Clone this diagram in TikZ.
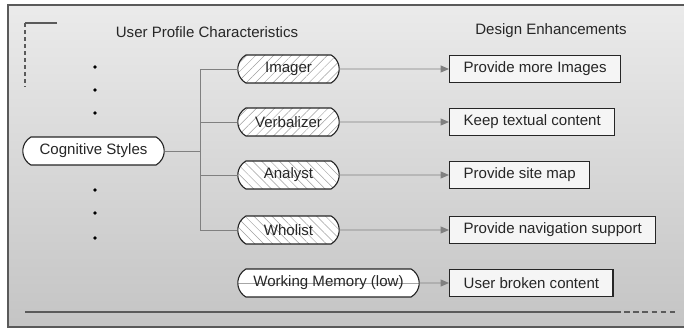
\documentclass[tikz,border=0pt]{standalone}
\usepackage{fontspec}
\setmainfont{Liberation Sans}
\usetikzlibrary{positioning,shapes.misc,patterns.meta,arrows.meta}
\definecolor{framegray}{HTML}{5A5A5A}
\definecolor{linegray}{HTML}{808080}
\definecolor{txtgray}{HTML}{262626}
\tikzset{
  pill/.style={rounded rectangle, rounded rectangle arc length=120, draw=txtgray, line width=0.8pt,
    minimum height=0.7cm, minimum width=2.675cm, inner xsep=2pt, text=txtgray},
  hatchne/.style={pill, preaction={fill=white}, pattern color=gray!75,
    pattern={Lines[angle=45,distance=4.5pt,line width=0.35pt]}},
  hatchnw/.style={pill, preaction={fill=white}, pattern color=gray!75,
    pattern={Lines[angle=-45,distance=4.5pt,line width=0.35pt]}},
  enhance/.style={draw=black!85, line width=0.9pt, fill=black!4, minimum height=0.675cm,
    inner xsep=0.35cm, anchor=west, text=txtgray},
  link/.style={draw=linegray, line width=0.7pt},
  arr/.style={link, -{Triangle[length=6pt,width=5pt]}}
}
\begin{document}
\begin{tikzpicture}[font=\fontsize{10.7}{12}\selectfont]
  \useasboundingbox (0,0) rectangle (17.1,8.225);
  % panel
  \shade[top color=black!8, bottom color=black!23] (0.2,0.05) rectangle (17.1,8.1);
  \draw[framegray, line width=1.4pt] (17.1,8.1) -- (0.2,8.1) -- (0.2,0.05) -- (17.1,0.05);
  \draw[framegray, line width=1pt] (1.425,7.65) -- (0.625,7.65);
  \draw[framegray, line width=1pt, dash pattern=on 3pt off 2pt] (0.625,7.65) -- (0.625,6.05);

  \node[text=txtgray] (upc) at (5.175,7.425) {User Profile Characteristics};
  \node[text=txtgray] (de) at (13.775,7.45) {Design Enhancements};

  \foreach \y in {6.55,5.975,5.4,3.475,2.9,2.275} {
    \fill[black] (2.375,\y) circle (1.3pt);
  }

  \node[pill, fill=white, minimum width=3.675cm] (cog) at (2.3375,4.45) {Cognitive Styles};
  \coordinate (trunk) at (5.0,4.45);

  \node[hatchne] (imager) at (7.2125,6.5) {Imager};
  \node[hatchne] (verbal) at (7.2125,5.175) {Verbalizer};
  \node[hatchnw] (analyst) at (7.2125,3.85) {Analyst};
  \node[hatchnw] (wholist) at (7.2125,2.475) {Wholist};
  \node[pill, fill=white, minimum width=4.675cm,
    path picture={\draw[gray!70, line width=0.5pt] (path picture bounding box.west) -- (path picture bounding box.east);}]
    (wm) at (8.2125,1.15) {Working Memory (low)};

  \node[enhance] (images) at (11.225,6.5) {Provide more Images};
  \node[enhance] (textual) at (11.225,5.175) {Keep textual content};
  \node[enhance] (sitemap) at (11.225,3.85) {Provide site map};
  \node[enhance] (navsup) at (11.225,2.475) {Provide navigation support};
  \node[enhance] (broken) at (11.225,1.15) {User broken content};

  \draw[link] (cog.east) -- (trunk);
  \foreach \p in {imager,verbal,analyst,wholist} {
    \draw[link] (trunk) |- (\p.west);
  }
  \draw[arr] (imager) -- (images);
  \draw[arr] (verbal) -- (textual);
  \draw[arr] (analyst) -- (sitemap);
  \draw[arr] (wholist) -- (navsup);
  \draw[arr] (wm) -- (broken);

  \coordinate (basel) at (0.625,0.425);
  \coordinate (basem) at (15.375,0.425);
  \coordinate (baser) at (16.95,0.425);
  \draw[framegray, line width=1.7pt] (basel) -- (basem);
  \draw[framegray, line width=1.7pt, dash pattern=on 4pt off 2.5pt] (basem) -- (baser);
\end{tikzpicture}
\end{document}
